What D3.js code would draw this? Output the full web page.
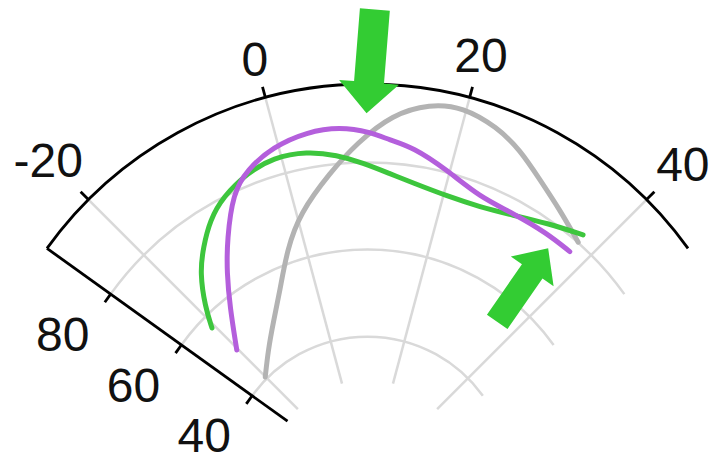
<!DOCTYPE html>
<html>
<head>
<meta charset="utf-8">
<script src="https://cdn.jsdelivr.net/npm/d3@7"></script>
<style>
  body { margin: 0; background: #fff; }
  .grid { fill: none; stroke: #d9d9d9; stroke-width: 2.5; }
  .axis { fill: none; stroke: #000; stroke-width: 2.8; }
  .curve { fill: none; stroke-width: 5; stroke-linecap: round; stroke-linejoin: round; }
  text { font-family: "Liberation Sans", Arial, sans-serif; font-size: 48px; fill: #111; }
</style>
</head>
<body>
<div class="container"></div>
<script>
const WIDTH = 713;
const HEIGHT = 457;
const CX = 367.5;
const CY = 478.7;

// axis limits and ticks
var thetaLim = [-26.2, 46.2];
var rLim = [30, 98];
var thetaTicks = [-20, 0, 20, 40];
var rTicks = [40, 60, 80];

// curves, [theta, r]
var grayTheta = [-20.1, -15.1, -10.8, -6.6, -2.9, 0.5, 5.3, 8.8, 12.6, 16.3, 19.6, 23.5, 26.6, 30.0, 33.7, 37.8];
var grayR     = [40.5, 44.7, 49.2, 55.1, 63.1, 70.3, 78.1, 84.5, 91.2, 94.6, 95.5, 93.4, 90.6, 86.6, 83.3, 80.1];

var purpleTheta = [-20.3, -15.8, -12.9, -10.3, -6.8, -4.2, -0.6, 3.4, 7.0, 10.3, 12.5, 15.2, 19.6, 24.5, 29.1, 34.1, 37.8];
var purpleR     = [49.5, 57.9, 64.6, 71.0, 79.9, 83.5, 86.6, 88.2, 88.4, 87.0, 85.3, 84.2, 80.6, 77.0, 76.9, 77.2, 77.2];

var greenTheta = [-20.6, -18.9, -16.1, -13.6, -10.9, -8.1, -4.3, -0.9, 3.0, 6.4, 9.45, 12.8, 15.8, 20.5, 25.0, 29.3, 33.4, 37.65];
var greenR     = [57.1, 61.7, 68.3, 72.5, 76.9, 80.1, 82.8, 84.2, 83.8, 82.0, 79.9, 77.6, 76.1, 74.8, 74.9, 76.5, 79.1, 82.1];

// annotation arrows: tail and tip in [theta, r]
var arrowTails = [[10.6, 115.1], [36.4, 54.1]];
var arrowTips  = [[9.9, 91.3], [35.4, 74.6]];
var arrowSizes = [[30, 60, 31], [25, 52, 28]]; // shaft width, head width, head length

var zip = (a, b) => a.map((v, i) => [v, b[i]]);

var draw = function() {
    var svg = d3.select('.container').append('svg')
        .attr('width', WIDTH)
        .attr('height', HEIGHT)
        .style('display', 'block');

    svg.append('rect').attr('width', WIDTH).attr('height', HEIGHT).attr('fill', '#fff');

    let aScale = d3.scaleLinear()
        .domain(thetaLim)
        .range([-54.3 * Math.PI / 180, 54.3 * Math.PI / 180]);
    let rScale = d3.scaleLinear()
        .domain(rLim)
        .range([98.5, 394.7]);

    // polar -> screen, relative to centre
    var pt = function(t, r) {
        let a = aScale(t), d = rScale(r);
        return [d * Math.sin(a), -d * Math.cos(a)];
    };
    var arcPath = function(r) {
        let p = d3.path();
        p.arc(0, 0, rScale(r), aScale(thetaLim[0]) - Math.PI / 2, aScale(thetaLim[1]) - Math.PI / 2);
        return p.toString();
    };

    var g = svg.append('g').attr('transform', `translate(${CX},${CY})`);

    // grid
    g.selectAll('.rgrid').data(rTicks).enter().append('path')
        .attr('class', 'grid')
        .attr('d', arcPath);
    g.selectAll('.tgrid').data(thetaTicks).enter().append('line')
        .attr('class', 'grid')
        .attr('x1', d => pt(d, rLim[0])[0]).attr('y1', d => pt(d, rLim[0])[1])
        .attr('x2', d => pt(d, rLim[1])[0]).attr('y2', d => pt(d, rLim[1])[1]);

    // curves
    var line = d3.lineRadial()
        .angle(d => aScale(d[0]))
        .radius(d => rScale(d[1]))
        .curve(d3.curveBasis);

    var series = [
        { data: zip(grayTheta, grayR), color: '#b3b3b3' },
        { data: zip(greenTheta, greenR), color: '#3dc63d' },
        { data: zip(purpleTheta, purpleR), color: '#b45fdc' }
    ];
    g.selectAll('.curve').data(series).enter().append('path')
        .attr('class', 'curve')
        .attr('stroke', d => d.color)
        .attr('d', d => line(d.data));

    // outer arc and radial axis
    g.append('path').attr('class', 'axis').attr('d', arcPath(rLim[1]));
    g.append('line').attr('class', 'axis')
        .attr('x1', pt(thetaLim[0], rLim[0])[0]).attr('y1', pt(thetaLim[0], rLim[0])[1])
        .attr('x2', pt(thetaLim[0], rLim[1])[0]).attr('y2', pt(thetaLim[0], rLim[1])[1]);

    // theta ticks and labels
    let R = rScale(rLim[1]);
    thetaTicks.forEach(t => {
        let a = aScale(t);
        g.append('line').attr('class', 'axis')
            .attr('x1', R * Math.sin(a)).attr('y1', -R * Math.cos(a))
            .attr('x2', (R + 11) * Math.sin(a)).attr('y2', -(R + 11) * Math.cos(a));
        let txt = g.append('text').text(t)
            .attr('text-anchor', 'middle')
            .attr('dy', '0.36em');
        let w = txt.node().getComputedTextLength();
        let d = R + 20 + Math.abs(Math.sin(a)) * w / 2 + Math.abs(Math.cos(a)) * 17.5;
        txt.attr('x', d * Math.sin(a)).attr('y', -d * Math.cos(a));
    });

    // r ticks and labels on the left edge
    let a0 = aScale(thetaLim[0]);
    let u = [Math.sin(a0), -Math.cos(a0)];
    let n = [-Math.cos(a0), -Math.sin(a0)];
    rTicks.forEach(r => {
        let p = pt(thetaLim[0], r);
        g.append('line').attr('class', 'axis')
            .attr('x1', p[0]).attr('y1', p[1])
            .attr('x2', p[0] + n[0] * 10).attr('y2', p[1] + n[1] * 10);
        g.append('text').text(r)
            .attr('text-anchor', 'middle')
            .attr('dy', '0.36em')
            .attr('x', p[0] + n[0] * 60 + u[0] * 16)
            .attr('y', p[1] + n[1] * 60 + u[1] * 16);
    });

    // green arrows
    arrowTips.forEach((tip, i) => {
        let T = pt(tip[0], tip[1]);
        let S = pt(arrowTails[i][0], arrowTails[i][1]);
        let [sw, hw, hl] = arrowSizes[i];
        let len = Math.hypot(T[0] - S[0], T[1] - S[1]);
        let ux = (T[0] - S[0]) / len, uy = (T[1] - S[1]) / len;
        let nx = -uy, ny = ux;
        let B = [T[0] - ux * hl, T[1] - uy * hl];
        let pts = [
            [S[0] + nx * sw / 2, S[1] + ny * sw / 2],
            [B[0] + nx * sw / 2, B[1] + ny * sw / 2],
            [B[0] + nx * hw / 2, B[1] + ny * hw / 2],
            T,
            [B[0] - nx * hw / 2, B[1] - ny * hw / 2],
            [B[0] - nx * sw / 2, B[1] - ny * sw / 2],
            [S[0] - nx * sw / 2, S[1] - ny * sw / 2]
        ];
        g.append('polygon')
            .attr('points', pts.map(p => p.join(',')).join(' '))
            .attr('fill', '#33cc33');
    });
};
window.onload = draw;
</script>
</body>
</html>
